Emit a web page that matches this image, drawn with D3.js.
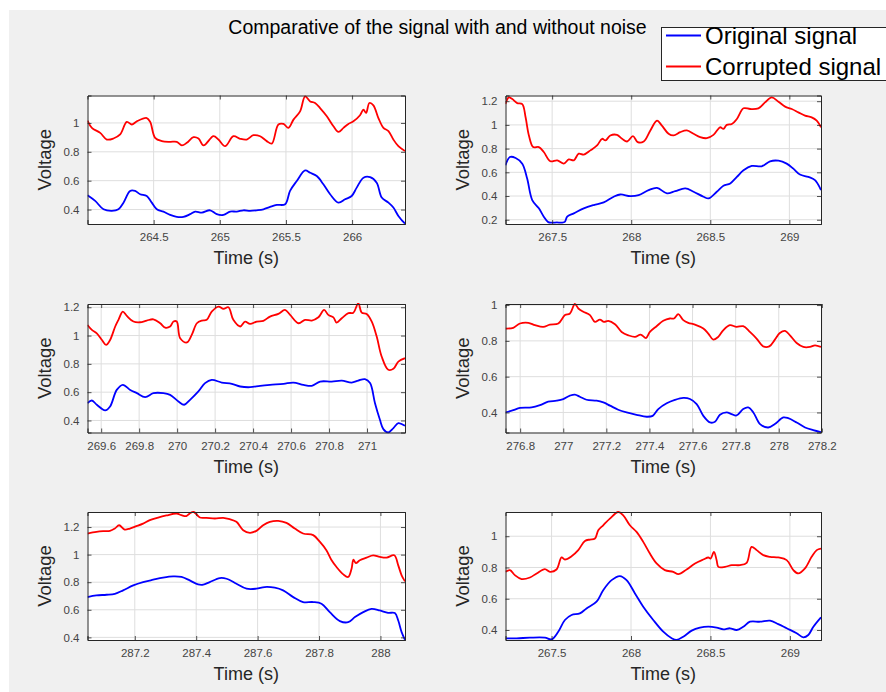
<!DOCTYPE html>
<html><head><meta charset="utf-8">
<script src="https://cdn.jsdelivr.net/npm/d3@7"></script>
<style>body{margin:0;background:#fff}svg{display:block;font-family:"Liberation Sans",Arial,Helvetica,sans-serif}</style>
</head><body><svg id="c" width="886" height="692"></svg>
<script>
const titleText = "Comparative of the signal with and without noise";
const legendLabels = ["Original signal", "Corrupted signal"];
const seriesColors = ["#0000ff", "#ff0000"];
const xLabelText = "Time (s)";
const yLabelText = "Voltage";

// Panel 1
const p1Original = [[264.0,0.499],[264.058,0.460],[264.121,0.402],[264.184,0.391],[264.234,0.402],[264.272,0.448],[264.322,0.529],[264.360,0.529],[264.398,0.506],[264.448,0.494],[264.486,0.448],[264.524,0.402],[264.574,0.386],[264.625,0.363],[264.675,0.349],[264.725,0.349],[264.776,0.368],[264.814,0.386],[264.864,0.379],[264.927,0.395],[264.977,0.368],[265.028,0.363],[265.078,0.386],[265.128,0.386],[265.179,0.395],[265.229,0.391],[265.280,0.395],[265.330,0.402],[265.380,0.418],[265.431,0.432],[265.494,0.437],[265.531,0.529],[265.582,0.598],[265.645,0.671],[265.683,0.655],[265.733,0.632],[265.783,0.575],[265.834,0.506],[265.897,0.448],[265.947,0.471],[265.997,0.494],[266.035,0.552],[266.086,0.621],[266.136,0.625],[266.186,0.586],[266.224,0.483],[266.275,0.448],[266.312,0.414],[266.350,0.356],[266.400,0.303]];
const p1Corrupted = [[264.0,1.016],[264.033,0.966],[264.096,0.931],[264.146,0.885],[264.196,0.892],[264.247,0.920],[264.297,1.007],[264.335,0.989],[264.373,1.011],[264.448,1.034],[264.474,1.007],[264.511,0.897],[264.562,0.874],[264.625,0.869],[264.675,0.869],[264.713,0.844],[264.751,0.862],[264.801,0.901],[264.839,0.892],[264.877,0.844],[264.952,0.908],[264.990,0.885],[265.040,0.839],[265.103,0.908],[265.154,0.890],[265.204,0.885],[265.254,0.915],[265.305,0.908],[265.355,0.874],[265.393,0.857],[265.443,0.989],[265.481,0.993],[265.519,0.966],[265.557,1.023],[265.607,1.080],[265.645,1.184],[265.683,1.149],[265.720,1.138],[265.758,1.103],[265.809,1.046],[265.859,0.977],[265.897,0.938],[265.935,0.966],[265.972,0.993],[266.010,1.011],[266.060,1.053],[266.086,1.092],[266.106,1.069],[266.131,1.138],[266.161,1.122],[266.199,1.034],[266.237,0.966],[266.275,0.943],[266.312,0.885],[266.350,0.839],[266.400,0.805]];

// Panel 2
const p2Original = [[267.205,0.659],[267.233,0.729],[267.269,0.721],[267.311,0.673],[267.342,0.547],[267.374,0.366],[267.416,0.296],[267.447,0.226],[267.475,0.180],[267.500,0.176],[267.530,0.177],[267.560,0.176],[267.580,0.182],[267.595,0.226],[267.637,0.254],[267.700,0.296],[267.763,0.324],[267.826,0.346],[267.889,0.394],[267.931,0.413],[267.994,0.399],[268.047,0.408],[268.110,0.450],[268.163,0.469],[268.226,0.422],[268.278,0.441],[268.342,0.464],[268.394,0.436],[268.457,0.394],[268.489,0.380],[268.541,0.436],[268.583,0.486],[268.626,0.506],[268.668,0.561],[268.710,0.617],[268.762,0.654],[268.825,0.651],[268.878,0.693],[268.931,0.698],[268.983,0.673],[269.025,0.631],[269.067,0.581],[269.120,0.561],[269.162,0.534],[269.200,0.450]];
const p2Corrupted = [[267.205,1.176],[267.226,1.232],[267.248,1.218],[267.279,1.184],[267.311,1.176],[267.332,1.064],[267.353,0.911],[267.380,0.813],[267.416,0.813],[267.447,0.771],[267.489,0.693],[267.532,0.701],[267.574,0.673],[267.605,0.709],[267.637,0.701],[267.668,0.757],[267.700,0.749],[267.742,0.785],[267.784,0.827],[267.816,0.883],[267.837,0.869],[267.868,0.911],[267.910,0.916],[267.942,0.883],[267.974,0.860],[268.011,0.905],[268.041,0.855],[268.079,0.860],[268.121,0.953],[268.163,1.036],[268.194,0.994],[268.236,0.925],[268.268,0.911],[268.310,0.939],[268.352,0.953],[268.394,0.925],[268.436,0.897],[268.478,0.888],[268.520,0.916],[268.562,0.980],[268.583,0.966],[268.604,1.000],[268.636,1.008],[268.668,1.050],[268.710,1.140],[268.752,1.134],[268.804,1.140],[268.846,1.190],[268.888,1.232],[268.931,1.196],[268.973,1.154],[269.015,1.134],[269.057,1.106],[269.099,1.078],[269.141,1.064],[269.173,1.036],[269.200,0.980]];

// Panel 3
const p3Original = [[269.528,0.522],[269.551,0.541],[269.577,0.511],[269.621,0.471],[269.647,0.499],[269.682,0.616],[269.714,0.652],[269.753,0.616],[269.788,0.593],[269.832,0.565],[269.875,0.593],[269.928,0.593],[269.963,0.581],[270.007,0.534],[270.037,0.511],[270.068,0.546],[270.112,0.605],[270.147,0.664],[270.182,0.687],[270.235,0.668],[270.288,0.659],[270.332,0.640],[270.384,0.635],[270.437,0.645],[270.489,0.652],[270.560,0.659],[270.612,0.668],[270.665,0.652],[270.709,0.645],[270.753,0.675],[270.814,0.675],[270.867,0.682],[270.919,0.668],[270.954,0.682],[270.989,0.692],[271.016,0.664],[271.042,0.522],[271.068,0.405],[271.086,0.339],[271.112,0.315],[271.139,0.346],[271.165,0.381],[271.200,0.362]];
const p3Corrupted = [[269.528,1.075],[269.551,1.040],[269.577,1.016],[269.604,0.969],[269.626,0.934],[269.647,0.969],[269.674,1.064],[269.691,1.111],[269.714,1.169],[269.735,1.139],[269.770,1.099],[269.805,1.094],[269.840,1.106],[269.875,1.115],[269.911,1.087],[269.937,1.056],[269.963,1.064],[269.981,1.099],[269.998,1.099],[270.016,0.981],[270.051,0.951],[270.077,1.005],[270.104,1.087],[270.130,1.106],[270.156,1.111],[270.182,1.169],[270.218,1.205],[270.244,1.188],[270.270,1.200],[270.296,1.111],[270.332,1.064],[270.358,1.099],[270.384,1.082],[270.419,1.099],[270.454,1.104],[270.489,1.134],[270.533,1.153],[270.568,1.181],[270.595,1.146],[270.639,1.087],[270.674,1.111],[270.709,1.106],[270.744,1.129],[270.774,1.181],[270.796,1.146],[270.823,1.129],[270.840,1.092],[270.867,1.122],[270.902,1.158],[270.928,1.162],[270.954,1.228],[270.972,1.162],[270.998,1.153],[271.025,1.099],[271.051,0.993],[271.077,0.852],[271.112,0.758],[271.139,0.765],[271.165,0.816],[271.200,0.840]];

// Panel 4
const p4Original = [[276.732,0.400],[276.768,0.413],[276.799,0.425],[276.853,0.428],[276.892,0.441],[276.930,0.460],[276.969,0.466],[277.000,0.475],[277.031,0.494],[277.054,0.500],[277.077,0.488],[277.108,0.471],[277.155,0.466],[277.186,0.456],[277.217,0.438],[277.255,0.415],[277.294,0.400],[277.340,0.387],[277.387,0.376],[277.415,0.381],[277.441,0.419],[277.480,0.451],[277.518,0.470],[277.557,0.481],[277.588,0.475],[277.619,0.447],[277.650,0.381],[277.681,0.344],[277.704,0.348],[277.727,0.387],[277.758,0.400],[277.781,0.391],[277.804,0.383],[277.835,0.419],[277.858,0.428],[277.882,0.400],[277.913,0.335],[277.951,0.316],[277.982,0.335],[278.021,0.372],[278.044,0.368],[278.083,0.344],[278.122,0.316],[278.160,0.301],[278.196,0.290]];
const p4Corrupted = [[276.732,0.869],[276.768,0.873],[276.799,0.897],[276.838,0.901],[276.869,0.888],[276.907,0.878],[276.938,0.891],[276.977,0.897],[277.008,0.944],[277.031,0.953],[277.054,1.006],[277.070,0.981],[277.093,0.963],[277.124,0.944],[277.147,0.906],[277.170,0.919],[277.189,0.906],[277.209,0.912],[277.240,0.893],[277.271,0.850],[277.302,0.831],[277.333,0.822],[277.359,0.835],[277.384,0.816],[277.402,0.850],[277.433,0.882],[277.464,0.912],[277.495,0.925],[277.514,0.925],[277.534,0.949],[277.557,0.916],[277.580,0.901],[277.611,0.891],[277.650,0.869],[277.673,0.841],[277.696,0.807],[277.719,0.822],[277.742,0.859],[277.773,0.888],[277.804,0.878],[277.835,0.882],[277.866,0.850],[277.897,0.813],[277.928,0.769],[277.956,0.769],[277.982,0.807],[278.005,0.844],[278.029,0.856],[278.052,0.831],[278.083,0.788],[278.114,0.766],[278.145,0.766],[278.168,0.775],[278.196,0.766]];

// Panel 5
const p5Original = [[287.046,0.692],[287.075,0.704],[287.108,0.709],[287.135,0.716],[287.162,0.741],[287.195,0.777],[287.227,0.801],[287.260,0.818],[287.292,0.833],[287.325,0.842],[287.352,0.838],[287.379,0.813],[287.406,0.784],[287.423,0.782],[287.444,0.801],[287.477,0.830],[287.499,0.825],[287.531,0.789],[287.564,0.753],[287.596,0.753],[287.623,0.765],[287.656,0.760],[287.683,0.741],[287.716,0.692],[287.748,0.656],[287.781,0.656],[287.808,0.644],[287.835,0.583],[287.868,0.518],[287.895,0.510],[287.917,0.547],[287.944,0.583],[287.971,0.607],[287.998,0.595],[288.025,0.578],[288.047,0.576],[288.058,0.522],[288.069,0.438],[288.080,0.382]];
const p5Corrupted = [[287.046,1.153],[287.075,1.165],[287.097,1.170],[287.119,1.172],[287.135,1.189],[287.149,1.213],[287.167,1.182],[287.184,1.189],[287.205,1.206],[287.227,1.225],[287.249,1.250],[287.276,1.269],[287.303,1.284],[287.336,1.298],[287.352,1.286],[287.368,1.279],[287.379,1.298],[287.392,1.309],[287.412,1.269],[287.433,1.267],[287.461,1.262],[287.488,1.267],[287.509,1.257],[287.531,1.238],[287.553,1.177],[287.575,1.158],[287.596,1.172],[287.618,1.213],[287.640,1.238],[287.667,1.245],[287.694,1.230],[287.721,1.189],[287.748,1.153],[287.781,1.141],[287.803,1.092],[287.824,1.032],[287.841,0.959],[287.857,0.910],[287.879,0.857],[287.895,0.838],[287.906,0.898],[287.912,0.964],[287.920,0.939],[287.933,0.959],[287.955,0.978],[287.976,0.995],[287.998,0.983],[288.020,0.978],[288.045,0.995],[288.058,0.922],[288.069,0.850],[288.080,0.806]];

// Panel 6
const p6Original = [[267.210,0.347],[267.280,0.347],[267.364,0.351],[267.458,0.351],[267.500,0.340],[267.542,0.389],[267.584,0.464],[267.626,0.496],[267.678,0.506],[267.720,0.538],[267.783,0.581],[267.825,0.655],[267.878,0.719],[267.930,0.745],[267.972,0.719],[268.025,0.634],[268.077,0.549],[268.140,0.464],[268.203,0.389],[268.256,0.347],[268.287,0.336],[268.329,0.357],[268.382,0.396],[268.434,0.415],[268.487,0.421],[268.539,0.415],[268.581,0.404],[268.623,0.411],[268.665,0.400],[268.707,0.421],[268.749,0.453],[268.812,0.453],[268.875,0.460],[268.927,0.438],[268.980,0.411],[269.043,0.379],[269.085,0.353],[269.116,0.368],[269.148,0.421],[269.196,0.481]];
const p6Corrupted = [[267.210,0.772],[267.238,0.783],[267.269,0.751],[267.311,0.726],[267.364,0.736],[267.406,0.762],[267.458,0.789],[267.490,0.772],[267.531,0.787],[267.563,0.864],[267.584,0.851],[267.626,0.872],[267.668,0.911],[267.710,0.970],[267.741,0.979],[267.773,0.985],[267.794,1.038],[267.825,1.070],[267.867,1.113],[267.920,1.155],[267.951,1.134],[267.993,1.070],[268.035,1.028],[268.077,0.964],[268.119,0.889],[268.161,0.826],[268.213,0.783],[268.266,0.772],[268.298,0.757],[268.350,0.787],[268.403,0.826],[268.455,0.851],[268.487,0.864],[268.501,0.857],[268.522,0.900],[268.539,0.847],[268.550,0.804],[268.592,0.804],[268.634,0.815],[268.686,0.815],[268.728,0.830],[268.759,0.932],[268.791,0.911],[268.833,0.879],[268.875,0.868],[268.927,0.864],[268.980,0.847],[269.022,0.783],[269.053,0.762],[269.095,0.794],[269.137,0.868],[269.169,0.911],[269.196,0.921]];

// Axis limits and ticks
const xLimits = [[264.0,266.4],[267.205,269.2],[269.528,271.2],[276.732,278.196],[287.046,288.08],[267.21,269.196]];
const yLimits = [[0.30,1.19],[0.164,1.248],[0.315,1.223],[0.288,1.006],[0.381,1.309],[0.336,1.155]];
const xTickValues = [
  [264.5,265,265.5,266],
  [267.5,268,268.5,269],
  [269.6,269.8,270,270.2,270.4,270.6,270.8,271],
  [276.8,277,277.2,277.4,277.6,277.8,278,278.2],
  [287.2,287.4,287.6,287.8,288],
  [267.5,268,268.5,269]
];
const yTickValues = [
  [0.4,0.6,0.8,1],
  [0.2,0.4,0.6,0.8,1,1.2],
  [0.4,0.6,0.8,1,1.2],
  [0.4,0.6,0.8,1],
  [0.4,0.6,0.8,1,1.2],
  [0.4,0.6,0.8,1]
];
const originalSeries = [p1Original,p2Original,p3Original,p4Original,p5Original,p6Original];
const corruptedSeries = [p1Corrupted,p2Corrupted,p3Corrupted,p4Corrupted,p5Corrupted,p6Corrupted];

const svg = d3.select("#c");
svg.append("rect").attr("x",0).attr("y",0).attr("width",886).attr("height",692).attr("fill","#ffffff");
svg.append("rect").attr("x",9).attr("y",10).attr("width",877).attr("height",682).attr("fill","#f0f0f0");

const colX = [[87.5,405],[505.5,821]];
const rowY = [[95.5,224],[304,432.5],[512,640]];
const axisColor = "#262626";
const fmt = d => String(+d.toFixed(3));

for (let i = 0; i < 6; i++) {
  const [x0,x1] = colX[i % 2];
  const [y0,y1] = rowY[Math.floor(i / 2)];
  const x = d3.scaleLinear().domain(xLimits[i]).range([x0,x1]);
  const y = d3.scaleLinear().domain(yLimits[i]).range([y1,y0]);
  const g = svg.append("g");
  g.append("rect").attr("x",x0).attr("y",y0).attr("width",x1-x0).attr("height",y1-y0).attr("fill","#ffffff");

  // grid
  g.append("g").selectAll("line").data(xTickValues[i]).join("line")
    .attr("x1",d=>x(d)).attr("x2",d=>x(d)).attr("y1",y0).attr("y2",y1)
    .attr("stroke","#dedede").attr("stroke-width",1);
  g.append("g").selectAll("line").data(yTickValues[i]).join("line")
    .attr("y1",d=>y(d)).attr("y2",d=>y(d)).attr("x1",x0).attr("x2",x1)
    .attr("stroke","#dedede").attr("stroke-width",1);

  const clipId = "clip"+i;
  svg.append("defs").append("clipPath").attr("id",clipId).append("rect")
    .attr("x",x0).attr("y",y0-1).attr("width",x1-x0).attr("height",y1-y0+2);

  const line = d3.line().x(d=>x(d[0])).y(d=>y(d[1])).curve(d3.curveCatmullRom.alpha(0.5));
  const lg = g.append("g").attr("clip-path",`url(#${clipId})`);
  lg.append("path").datum(originalSeries[i]).attr("d",line).attr("fill","none")
    .attr("stroke",seriesColors[0]).attr("stroke-width",1.8).attr("stroke-linejoin","round");
  lg.append("path").datum(corruptedSeries[i]).attr("d",line).attr("fill","none")
    .attr("stroke",seriesColors[1]).attr("stroke-width",1.8).attr("stroke-linejoin","round");

  // axes (ticks inward)
  const ax = [
    d3.axisBottom(x).tickValues(xTickValues[i]).tickSize(-4).tickPadding(9).tickFormat(fmt),
    d3.axisTop(x).tickValues(xTickValues[i]).tickSize(-4).tickFormat(""),
    d3.axisLeft(y).tickValues(yTickValues[i]).tickSize(-4).tickPadding(8).tickFormat(fmt),
    d3.axisRight(y).tickValues(yTickValues[i]).tickSize(-4).tickFormat("")
  ];
  const trans = [`translate(0,${y1})`,`translate(0,${y0})`,`translate(${x0},0)`,`translate(${x1},0)`];
  ax.forEach((a,k)=>{
    const ag = g.append("g").attr("transform",trans[k]).call(a);
    ag.select(".domain").attr("stroke",axisColor).attr("stroke-width",1);
    ag.selectAll(".tick line").attr("stroke",axisColor).attr("stroke-width",0.8);
    ag.selectAll("text").attr("fill","#444444").attr("font-size","11.5px")
      .attr("font-family",'"Liberation Sans",Arial,sans-serif');
  });

  // labels
  g.append("text").attr("x",(x0+x1)/2).attr("y",y1+40).attr("text-anchor","middle")
    .attr("font-size","18px").attr("fill",axisColor).text(xLabelText);
  const ylx = x0 - 37;
  g.append("text").attr("transform",`translate(${ylx},${(y0+y1)/2}) rotate(-90)`)
    .attr("text-anchor","middle").attr("font-size","18.5px").attr("fill",axisColor).text(yLabelText);
}

// title
svg.append("text").attr("x",437.5).attr("y",34).attr("text-anchor","middle")
  .attr("font-size","19.5px").attr("fill","#000").text(titleText);

// legend
const lgG = svg.append("g");
lgG.append("rect").attr("x",661.5).attr("y",27.5).attr("width",240).attr("height",53)
  .attr("fill","#ffffff").attr("stroke",axisColor).attr("stroke-width",1);
legendLabels.forEach((lab,k)=>{
  const cy = 35.5 + k*31;
  lgG.append("line").attr("x1",666).attr("x2",701).attr("y1",cy).attr("y2",cy)
    .attr("stroke",seriesColors[k]).attr("stroke-width",1.8);
  lgG.append("text").attr("x",705).attr("y",cy+8).attr("font-size","24px").attr("fill","#000").text(lab);
});
</script></body></html>
